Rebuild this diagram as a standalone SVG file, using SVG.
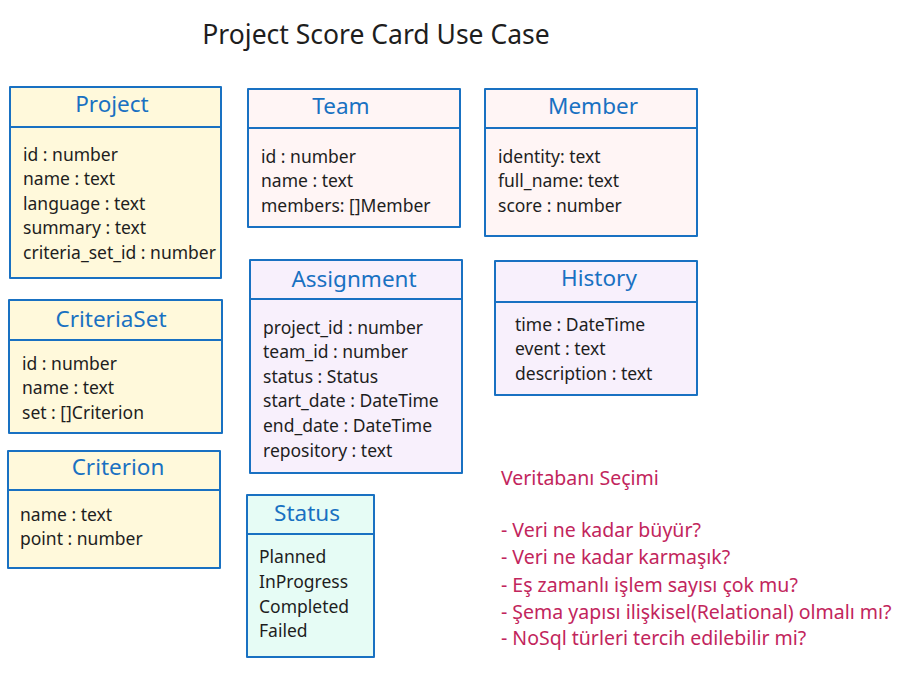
<svg xmlns="http://www.w3.org/2000/svg" width="899" height="674" viewBox="0 0 899 674">
<style>
.box{stroke:#1971c2;stroke-width:2;stroke-linejoin:round}
.sep{stroke:#1971c2;stroke-width:2;fill:none}
.y{fill:#fff9db}.p{fill:#fff5f5}.v{fill:#f8f0fc}.g{fill:#e6fcf5}
.t{font-family:"Noto Sans",sans-serif;font-size:22.5px;fill:#1971c2;text-anchor:middle}
.f{font-family:"Noto Sans",sans-serif;font-size:17.5px;fill:#1e1e1e}
.n{font-family:"Noto Sans",sans-serif;font-size:19.5px;fill:#c2255c}
.h{font-family:"Noto Sans",sans-serif;font-size:26.5px;fill:#1e1e1e;text-anchor:middle}
</style>
<rect width="899" height="674" fill="#ffffff"/>
<text class="h" x="376" y="44">Project Score Card Use Case</text>

<g id="project">
<rect class="box y" x="10" y="87" width="211" height="191"/>
<line class="sep" x1="10" y1="127" x2="221" y2="127"/>
<text class="t" x="112" y="112">Project</text>
<text class="f" x="23" y="161">id : number</text>
<text class="f" x="23" y="185">name : text</text>
<text class="f" x="23" y="210">language : text</text>
<text class="f" x="23" y="234">summary : text</text>
<text class="f" x="23" y="259">criteria_set_id : number</text>
</g>

<g id="team">
<rect class="box p" x="248" y="89" width="212" height="138"/>
<line class="sep" x1="248" y1="128" x2="460" y2="128"/>
<text class="t" x="341" y="114">Team</text>
<text class="f" x="261" y="163">id : number</text>
<text class="f" x="261" y="187">name : text</text>
<text class="f" x="261" y="212">members: []Member</text>
</g>

<g id="member">
<rect class="box p" x="485" y="89" width="212" height="147"/>
<line class="sep" x1="485" y1="128" x2="697" y2="128"/>
<text class="t" x="593" y="114">Member</text>
<text class="f" x="498" y="163">identity: text</text>
<text class="f" x="498" y="187">full_name: text</text>
<text class="f" x="498" y="212">score : number</text>
</g>

<g id="criteriaset">
<rect class="box y" x="9" y="300" width="213" height="133"/>
<line class="sep" x1="9" y1="340" x2="222" y2="340"/>
<text class="t" x="111" y="327">CriteriaSet</text>
<text class="f" x="22" y="370">id : number</text>
<text class="f" x="22" y="394">name : text</text>
<text class="f" x="22" y="419">set : []Criterion</text>
</g>

<g id="criterion">
<rect class="box y" x="8" y="451" width="212" height="117"/>
<line class="sep" x1="8" y1="490" x2="220" y2="490"/>
<text class="t" x="118" y="475">Criterion</text>
<text class="f" x="20" y="521">name : text</text>
<text class="f" x="20" y="545">point : number</text>
</g>

<g id="assignment">
<rect class="box v" x="250" y="260" width="212" height="213"/>
<line class="sep" x1="250" y1="299" x2="462" y2="299"/>
<text class="t" x="354" y="287">Assignment</text>
<text class="f" x="263" y="334">project_id : number</text>
<text class="f" x="263" y="358">team_id : number</text>
<text class="f" x="263" y="383">status : Status</text>
<text class="f" x="263" y="407">start_date : DateTime</text>
<text class="f" x="263" y="432">end_date : DateTime</text>
<text class="f" x="263" y="457">repository : text</text>
</g>

<g id="history">
<rect class="box v" x="495" y="261" width="202" height="134"/>
<line class="sep" x1="495" y1="302" x2="697" y2="302"/>
<text class="t" x="599" y="286">History</text>
<text class="f" x="515" y="331">time : DateTime</text>
<text class="f" x="515" y="355">event : text</text>
<text class="f" x="515" y="380">description : text</text>
</g>

<g id="status">
<rect class="box g" x="247" y="495" width="127" height="162"/>
<line class="sep" x1="247" y1="534" x2="374" y2="534"/>
<text class="t" x="307" y="521">Status</text>
<text class="f" x="259" y="563">Planned</text>
<text class="f" x="259" y="588">InProgress</text>
<text class="f" x="259" y="613">Completed</text>
<text class="f" x="259" y="637">Failed</text>
</g>

<g id="notes">
<text class="n" x="501" y="485">Veritabanı Seçimi</text>
<text class="n" x="501" y="537">- Veri ne kadar büyür?</text>
<text class="n" x="501" y="564">- Veri ne kadar karmaşık?</text>
<text class="n" x="501" y="592">- Eş zamanlı işlem sayısı çok mu?</text>
<text class="n" x="501" y="619">- Şema yapısı ilişkisel(Relational) olmalı mı?</text>
<text class="n" x="501" y="645">- NoSql türleri tercih edilebilir mi?</text>
</g>
<g id="connectors"></g>
</svg>
